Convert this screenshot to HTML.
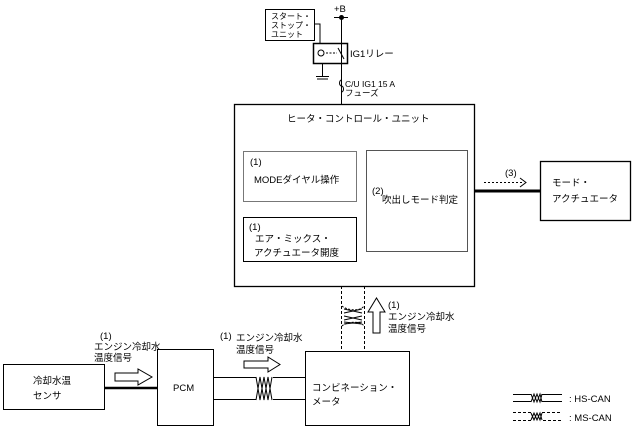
<!DOCTYPE html>
<html><head><meta charset="utf-8"><style>
html,body{margin:0;padding:0;background:#fff;}
svg{display:block;font-family:"Liberation Sans","Noto Sans CJK JP",sans-serif;}
text{font-size:9.5px;fill:#000;}
</style></head><body>
<svg width="634" height="433" viewBox="0 0 634 433" xmlns="http://www.w3.org/2000/svg">
<g fill="none" stroke="#000" stroke-width="1">
<!-- start/stop unit -->
<rect x="265.5" y="9.5" width="49" height="31"/>
<polyline points="314,24 320,24 320,44"/>
<!-- +B line -->
<line x1="334" y1="17.5" x2="348" y2="17.5"/>
<line x1="341.5" y1="17" x2="341.5" y2="104"/>
<!-- relay -->
<rect x="313.5" y="43.5" width="34" height="20" stroke-width="1.5"/>
<circle cx="321" cy="53" r="3"/>
<line x1="326" y1="53" x2="337" y2="53" stroke-dasharray="2,1.5"/>
<line x1="338" y1="48" x2="344" y2="59"/>
<line x1="322.5" y1="63" x2="322.5" y2="76"/>
<line x1="316" y1="76.5" x2="329" y2="76.5"/>
<line x1="317" y1="79" x2="328" y2="79"/>
<!-- fuse -->
<path d="M341.5,80 a2,3 0 0 0 0,6 a2,3 0 0 1 0,6"/>
<!-- main box -->
<rect x="234.5" y="104.5" width="240" height="182" stroke-width="1.3"/>
<rect x="243.5" y="151.5" width="113" height="50" stroke="#777"/>
<rect x="243.5" y="217.5" width="113" height="44"/>
<rect x="366.5" y="150.5" width="101" height="101" stroke="#555"/>
<!-- mode actuator -->
<rect x="540.5" y="161.5" width="90" height="59" stroke-width="1.3"/>
<line x1="474" y1="191" x2="540" y2="191" stroke-width="3"/>
<line x1="484" y1="182.5" x2="524" y2="182.5" stroke-dasharray="2,2"/>
<polyline points="520,178 526,182.5 520,187"/>
<!-- MS-CAN vertical -->
<line x1="341.5" y1="286" x2="341.5" y2="351" stroke-dasharray="3,2"/>
<line x1="364.5" y1="286" x2="364.5" y2="351" stroke-dasharray="3,2"/>
<path d="M342,306 C346,310 360,312 364,306 M342,326 C346,322 360,320 364,326" stroke-dasharray="2,1.5"/>
<path d="M344,309 L362,313 M344,313 L362,309 M344,316 L362,320 M344,320 L362,316 M344,322 L362,324 M344,324 L362,322"/>
<!-- up arrow -->
<polygon points="373,333 380,333 380,312 385,312 376.5,298 368,312 373,312"/>
<!-- bottom boxes -->
<rect x="3.5" y="364.5" width="101" height="45"/>
<rect x="157.5" y="349.5" width="56" height="76"/>
<rect x="305.5" y="351.5" width="104" height="74"/>
<line x1="104" y1="388" x2="157" y2="388" stroke-width="2.5"/>
<polygon points="115,373 138,373 138,369 152,377 138,385 138,381 115,381"/>
<!-- HS-CAN pcm-meter -->
<line x1="213" y1="377.5" x2="256" y2="377.5"/>
<line x1="213" y1="399.5" x2="256" y2="399.5"/>
<line x1="273" y1="377.5" x2="305" y2="377.5"/>
<line x1="273" y1="399.5" x2="305" y2="399.5"/>
<path d="M256,377 L260,400 L264,377 L268,400 L272,377 M256,400 L260,377 L264,400 L268,377 L272,400"/>
<polygon points="244,361 268,361 268,357 280,364.5 268,372 268,368 244,368"/>
<!-- legend -->
<line x1="513" y1="394.5" x2="531" y2="394.5"/>
<line x1="513" y1="401.5" x2="531" y2="401.5"/>
<line x1="542" y1="394.5" x2="562" y2="394.5"/>
<line x1="542" y1="401.5" x2="562" y2="401.5"/>
<path d="M531,394 L534,402 L537,394 L540,402 L542,394 M531,402 L534,394 L537,402 L540,394 L542,402"/>
<line x1="513" y1="412.5" x2="533" y2="412.5" stroke-dasharray="3,2"/>
<line x1="513" y1="420.5" x2="531" y2="420.5" stroke-dasharray="3,2"/>
<line x1="542" y1="412.5" x2="562" y2="412.5" stroke-dasharray="3,2"/>
<line x1="543" y1="420.5" x2="562" y2="420.5" stroke-dasharray="3,2"/>
<path d="M531,413 L534,420 L537,413 L540,420 L542,413 M531,420 L534,413 L537,420 L540,413 L542,420"/>
</g>
<circle cx="341.5" cy="17.5" r="2.5" fill="#000"/>
<text x="271" y="19" style="font-size:8px">スタート・</text>
<text x="271" y="28" style="font-size:8px">ストップ・</text>
<text x="271" y="37" style="font-size:8px">ユニット</text>
<text x="334" y="12">+B</text>
<text x="350" y="57">IG1リレー</text>
<text x="345" y="87" style="font-size:8.5px">C/U IG1 15 A</text>
<text x="345" y="96" style="font-size:8.5px">フューズ</text>
<text x="287" y="122">ヒータ・コントロール・ユニット</text>
<text x="250" y="165">(1)</text>
<text x="254" y="183">MODEダイヤル操作</text>
<text x="249" y="230">(1)</text>
<text x="255" y="242">エア・ミックス・</text>
<text x="254" y="256">アクチュエータ開度</text>
<text x="372" y="194">(2)</text>
<text x="382" y="203">吹出しモード判定</text>
<text x="505" y="176">(3)</text>
<text x="552" y="186">モード・</text>
<text x="552" y="202">アクチュエータ</text>
<text x="388" y="308">(1)</text>
<text x="388" y="320">エンジン冷却水</text>
<text x="388" y="332">温度信号</text>
<text x="100" y="339">(1)</text>
<text x="94" y="350">エンジン冷却水</text>
<text x="94" y="361">温度信号</text>
<text x="220" y="339">(1)</text>
<text x="236" y="341">エンジン冷却水</text>
<text x="236" y="353">温度信号</text>
<text x="33" y="384">冷却水温</text>
<text x="33" y="399">センサ</text>
<text x="173" y="391">PCM</text>
<text x="312" y="391">コンビネーション・</text>
<text x="312" y="405">メータ</text>
<text x="569" y="402">: HS-CAN</text>
<text x="569" y="421">: MS-CAN</text>
</svg>
</body></html>
